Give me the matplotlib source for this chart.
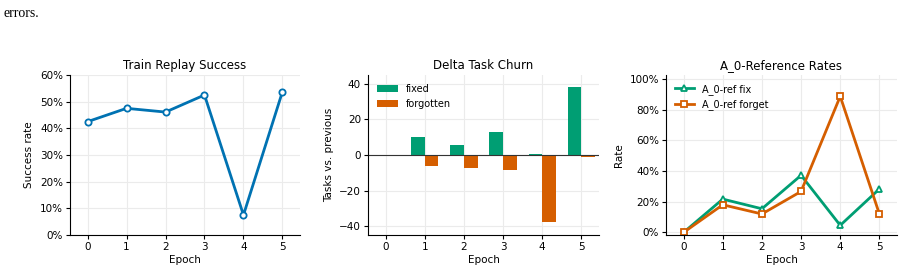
import numpy as np
import matplotlib.pyplot as plt
from matplotlib.ticker import PercentFormatter

# data
epochs = [0, 1, 2, 3, 4, 5]
replay_success = [0.425, 0.475, 0.461, 0.525, 0.075, 0.5375]
churn_fixed = [0, 10.1, 5.6, 12.9, 0.7, 38.2]
churn_forgotten = [0, -6.2, -7.1, -8.2, -37.5, -0.9]
ref_fix = [0.0, 0.217, 0.154, 0.372, 0.046, 0.283]
ref_forget = [0.0, 0.18, 0.12, 0.267, 0.887, 0.12]

BLUE = '#0072B2'
GREEN = '#009E73'
ORANGE = '#D55E00'

plt.rcParams['font.family'] = 'DejaVu Sans'
plt.rcParams['font.size'] = 7.5

fig = plt.figure(figsize=(9.04, 2.76), dpi=100)
W, H = 904, 276
def add_ax(x0, x1, y0, y1):
    return fig.add_axes([x0 / W, (H - y1) / H, (x1 - x0) / W, (y1 - y0) / H])

ax1 = add_ax(70, 300, 75, 235)
ax2 = add_ax(368, 599, 75, 235)
ax3 = add_ax(666, 897, 75, 235)

for ax in (ax1, ax2, ax3):
    ax.spines['top'].set_visible(False)
    ax.spines['right'].set_visible(False)
    ax.grid(True, color='#ebebeb', linewidth=0.8)
    ax.set_axisbelow(True)
    ax.set_xticks(epochs)
    ax.set_xlim(-0.45, 5.45)
    ax.set_xlabel('Epoch', fontsize=7.5, labelpad=2)
    ax.tick_params(labelsize=7.5, length=3, width=0.8, pad=2)

# panel 1
ax1.plot(epochs, replay_success, color=BLUE, lw=2, marker='o', ms=4.5,
         mfc='white', mec=BLUE, mew=1.3)
ax1.set_ylim(0, 0.6)
ax1.yaxis.set_major_formatter(PercentFormatter(1.0, decimals=0))
ax1.set_ylabel('Success rate', fontsize=7.5)
ax1.set_title('Train Replay Success', fontsize=8.5, pad=4)

# panel 2
x = np.arange(len(epochs))
w = 0.35
ax2.bar(x - w / 2, churn_fixed, w, color=GREEN, label='fixed')
ax2.bar(x + w / 2, churn_forgotten, w, color=ORANGE, label='forgotten')
ax2.axhline(0, color='#333333', lw=0.8)
ax2.set_ylim(-45, 45)
ax2.set_ylabel('Tasks vs. previous', fontsize=7.5)
ax2.set_title('Delta Task Churn', fontsize=8.5, pad=4)
ax2.legend(loc='upper left', frameon=False, fontsize=7, handlelength=2.2)

# panel 3
ax3.plot(epochs, ref_fix, color=GREEN, lw=2, marker='^', ms=5,
         mfc='white', mec=GREEN, mew=1.3, label='A_0-ref fix')
ax3.plot(epochs, ref_forget, color=ORANGE, lw=2, marker='s', ms=5,
         mfc='white', mec=ORANGE, mew=1.3, label='A_0-ref forget')
ax3.set_ylim(-0.017, 1.026)
ax3.set_yticks([0, 0.2, 0.4, 0.6, 0.8, 1.0])
ax3.yaxis.set_major_formatter(PercentFormatter(1.0, decimals=0))
ax3.set_ylabel('Rate', fontsize=7.5)
ax3.set_title('A_0-Reference Rates', fontsize=8.5, pad=4)
ax3.legend(loc='upper left', frameon=False, fontsize=7)

fig.text(4 / W, 1 - 17 / H, 'errors.', family='Liberation Serif', fontsize=10)

fig.savefig('out.png', dpi=100)
